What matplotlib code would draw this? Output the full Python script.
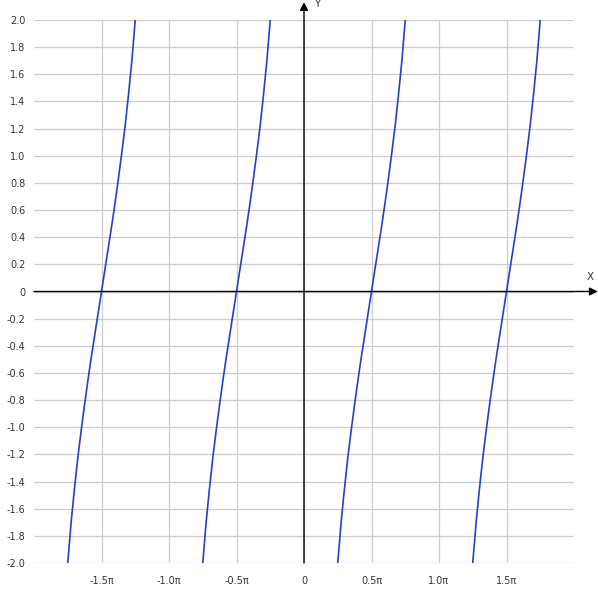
import numpy as np
import matplotlib
matplotlib.use("Agg")
import matplotlib.pyplot as plt

# branch shape: offset from each zero (in units of pi) and y
BRANCH_OFFSETS = [-0.25, -0.225, -0.2, -0.175, -0.15, -0.125, -0.1, -0.075, -0.05, -0.025,
                  0.0, 0.025, 0.05, 0.075, 0.1, 0.125, 0.15, 0.175, 0.2, 0.225, 0.25]
BRANCH_Y = [-2.0, -1.70, -1.45, -1.22, -1.02, -0.83, -0.65, -0.48, -0.32, -0.16,
            0.0, 0.16, 0.32, 0.48, 0.65, 0.83, 1.02, 1.22, 1.45, 1.70, 2.0]
BRANCH_ZEROS = [-1.5, -0.5, 0.5, 1.5]

X_TICKS = [-1.5, -1.0, -0.5, 0.0, 0.5, 1.0, 1.5]
X_TICK_LABELS = ["-1.5π", "-1.0π", "-0.5π", "0", "0.5π", "1.0π", "1.5π"]
Y_TICKS = [round(-2.0 + 0.2 * i, 1) for i in range(21)]
Y_TICK_LABELS = ["0" if v == 0 else f"{v:.1f}" for v in Y_TICKS]

W, H = 598, 592
fig = plt.figure(figsize=(W / 100, H / 100), dpi=100)
left, right, top, bottom = 34, 574, 20, 563
ax = fig.add_axes([left / W, 1 - bottom / H, (right - left) / W, (bottom - top) / H])

for z in BRANCH_ZEROS:
    xs = (np.array(BRANCH_OFFSETS) + z) * np.pi
    ax.plot(xs, BRANCH_Y, color="#2540c4", lw=1.2, zorder=3)

ax.set_xlim(-2 * np.pi, 2 * np.pi)
ax.set_ylim(-2, 2)
ax.set_xticks([t * np.pi for t in X_TICKS])
ax.set_xticklabels(X_TICK_LABELS)
ax.set_yticks(Y_TICKS)
ax.set_yticklabels(Y_TICK_LABELS)
ax.tick_params(length=0, labelsize=7, colors="#333333", pad=6)
ax.tick_params(axis="x", pad=9)
ax.grid(True, color="#cccccc", lw=0.9)
for s in ax.spines.values():
    s.set_visible(False)

# axes with arrows
ax.annotate("", xy=(1.044, 0), xycoords=ax.get_yaxis_transform(),
            xytext=(0, 0), textcoords=("axes fraction", "data"),
            arrowprops=dict(arrowstyle="-|>", color="black", lw=1.0,
                            mutation_scale=12, shrinkA=0, shrinkB=0))
ax.annotate("", xy=(0, 1.033), xycoords=ax.get_xaxis_transform(),
            xytext=(0, 0), textcoords=("data", "axes fraction"),
            arrowprops=dict(arrowstyle="-|>", color="black", lw=1.0,
                            mutation_scale=12, shrinkA=0, shrinkB=0))
ax.text(1.031, 0.107, "X", transform=ax.get_yaxis_transform(), fontsize=7.5,
        color="#333333", ha="center", va="center")
ax.text(0.097 * np.pi, 1.0295, "Y", transform=ax.get_xaxis_transform(), fontsize=7.5,
        color="#333333", ha="center", va="center")

fig.savefig("out.png", dpi=100)
